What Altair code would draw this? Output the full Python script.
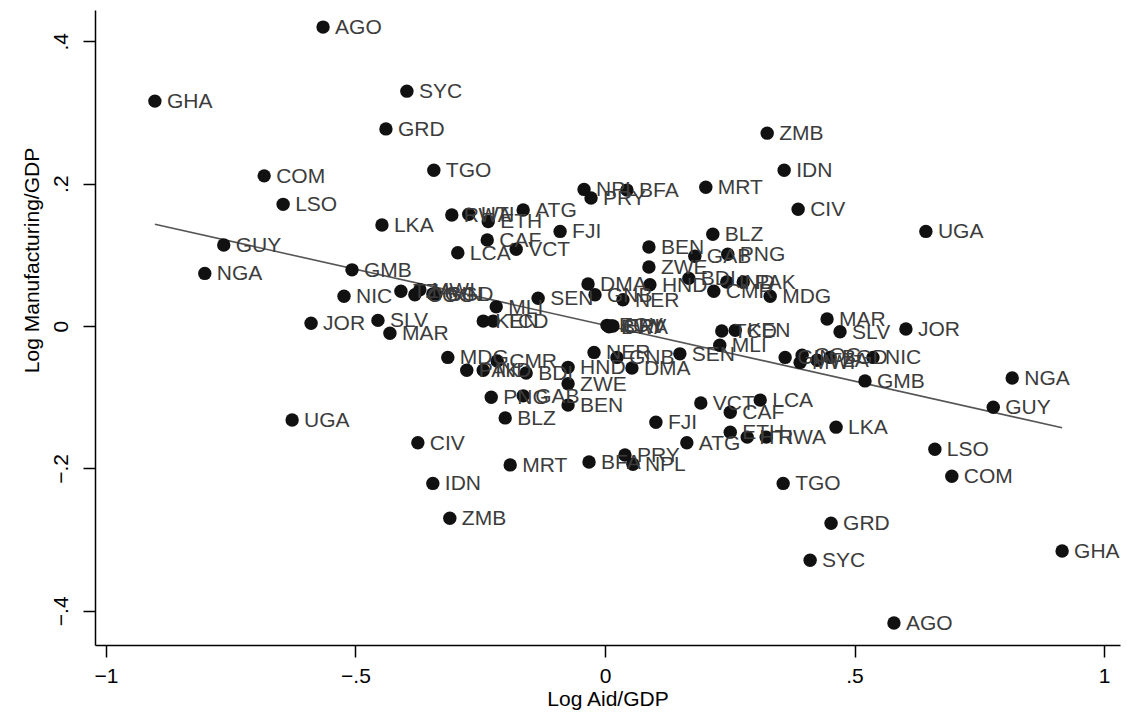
import altair as alt
import pandas as pd

countries = [
    "AGO", "GHA", "SYC", "GRD", "TGO", "COM", "LSO", "GUY", "NGA", "LKA",
    "GMB", "NIC", "JOR", "SLV", "MAR", "UGA", "CIV", "IDN", "ZMB", "MRT",
    "BFA", "PRY", "NPL", "ATG", "FJI", "VCT", "LCA", "CAF", "ETH", "HTI", "RWA",
    "LKA", "TGO", "GRD", "SYC", "AGO", "GHA", "COM", "LSO", "GUY", "NGA",
    "GMB", "NIC", "JOR", "SLV", "MAR", "UGA", "CIV", "IDN", "ZMB", "MRT",
    "BFA", "NPL", "PRY", "ATG", "FJI", "VCT", "LCA", "CAF", "ETH", "RWA", "HTI",
    "BLZ", "BEN", "GAB", "PNG", "ZWE", "BDI", "IND", "PAK", "CMR", "MDG",
    "HND", "DMA", "GNB", "NER", "SEN", "TZA", "COG", "MWI", "GIN", "BGD",
    "MLI", "KEN", "TCD",
    "BLZ", "BEN", "GAB", "PNG", "ZWE", "BDI", "IND", "PAK", "CMR", "MDG",
    "HND", "DMA", "GNB", "NER", "SEN", "GIN", "MWI", "COG", "TZA", "BGD",
    "MLI", "KEN", "TCD",
    "EGY", "BWA", "CPV", "ERI",
]

log_aid_gdp = [
    -0.565, -0.902, -0.397, -0.439, -0.343, -0.683, -0.645, -0.764, -0.802, -0.447,
    -0.507, -0.523, -0.589, -0.455, -0.431, -0.627, -0.375, -0.345, -0.311, -0.190,
    -0.032, 0.040, 0.056, 0.164, 0.102, 0.192, 0.311, 0.251, 0.251, 0.285, 0.323,
    0.463, 0.357, 0.453, 0.411, 0.579, 0.916, 0.695, 0.661, 0.778, 0.816,
    0.521, 0.537, 0.603, 0.471, 0.445, 0.643, 0.387, 0.359, 0.325, 0.202,
    0.044, -0.042, -0.028, -0.164, -0.090, -0.178, -0.295, -0.236, -0.234, -0.307, -0.273,
    0.216, 0.088, 0.180, 0.246, 0.088, 0.168, 0.244, 0.277, 0.218, 0.331,
    0.090, -0.034, -0.020, 0.036, -0.134, -0.409, -0.381, -0.371, -0.345, -0.339,
    -0.218, -0.244, -0.224,
    -0.200, -0.074, -0.164, -0.228, -0.074, -0.158, -0.244, -0.277, -0.216, -0.315,
    -0.074, 0.054, 0.024, -0.022, 0.150, 0.361, 0.391, 0.395, 0.425, 0.451,
    0.230, 0.261, 0.234,
    0.004, 0.008, 0.012, 0.016,
]

log_manuf_gdp = [
    0.420, 0.316, 0.330, 0.277, 0.219, 0.211, 0.171, 0.114, 0.074, 0.142,
    0.079, 0.042, 0.004, 0.008, -0.010, -0.132, -0.164, -0.221, -0.270, -0.195,
    -0.191, -0.181, -0.194, -0.164, -0.135, -0.108, -0.104, -0.121, -0.149, -0.156, -0.156,
    -0.142, -0.221, -0.277, -0.329, -0.417, -0.316, -0.211, -0.173, -0.114, -0.073,
    -0.077, -0.044, -0.004, -0.008, 0.010, 0.133, 0.164, 0.219, 0.271, 0.195,
    0.191, 0.192, 0.180, 0.163, 0.133, 0.108, 0.103, 0.121, 0.147, 0.156, 0.157,
    0.129, 0.111, 0.098, 0.101, 0.083, 0.067, 0.062, 0.062, 0.049, 0.042,
    0.058, 0.059, 0.044, 0.037, 0.039, 0.049, 0.044, 0.051, 0.045, 0.045,
    0.027, 0.007, 0.007,
    -0.129, -0.111, -0.098, -0.100, -0.081, -0.066, -0.062, -0.062, -0.049, -0.044,
    -0.058, -0.059, -0.044, -0.037, -0.039, -0.044, -0.051, -0.041, -0.048, -0.044,
    -0.027, -0.006, -0.007,
    0.001, -0.001, 0.000, 0.000,
]

df = pd.DataFrame({"country": countries, "x": log_aid_gdp, "y": log_manuf_gdp})

FONT = "Liberation Sans"
label_expr = "datum.value == 0 ? '0' : replace(format(datum.value, '~g'), '0.', '.')"

x_enc = alt.X(
    "x:Q",
    scale=alt.Scale(domain=[-1.022, 1.032], nice=False, zero=False),
    axis=alt.Axis(
        title="Log Aid/GDP",
        values=[-1, -0.5, 0, 0.5, 1],
        labelExpr=label_expr,
        labelPadding=8,
        titlePadding=2,
    ),
)
y_enc = alt.Y(
    "y:Q",
    scale=alt.Scale(domain=[-0.448, 0.444], nice=False, zero=False),
    axis=alt.Axis(
        title="Log Manufacturing/GDP",
        values=[-0.4, -0.2, 0, 0.2, 0.4],
        labelExpr=label_expr,
        labelAngle=270,
        labelAlign="center",
        labelBaseline="bottom",
        labelPadding=12,
        titlePadding=8,
        titleY=250,
    ),
)

base = alt.Chart(df)

points = base.mark_circle(size=180, color="#111111", opacity=1).encode(x=x_enc, y=y_enc)

labels = base.mark_text(
    align="left", baseline="middle", dx=12, dy=1, fontSize=21, font=FONT, color="#3c3c3c"
).encode(x=x_enc, y=y_enc, text="country:N")

fit = base.transform_regression("x", "y", method="linear").mark_line(
    color="#555555", strokeWidth=1.6
).encode(x=x_enc, y=y_enc)

chart = (
    alt.layer(fit, points, labels)
    .properties(
        width=1025,
        height=635,
        autosize=alt.AutoSizeParams(type="none"),
        padding={"left": 95, "top": 10, "right": 7, "bottom": 70},
        background="white",
    )
    .configure_view(stroke=None)
    .configure_axis(
        grid=False,
        domainColor="#000000",
        domainWidth=1.5,
        tickColor="#000000",
        tickWidth=1.5,
        tickSize=12,
        labelFont=FONT,
        labelFontSize=21,
        labelColor="#000000",
        titleFont=FONT,
        titleFontSize=21,
        titleFontWeight="normal",
        titleColor="#000000",
    )
)

chart.save("out.html", embed_options={"renderer": "svg", "actions": False})
